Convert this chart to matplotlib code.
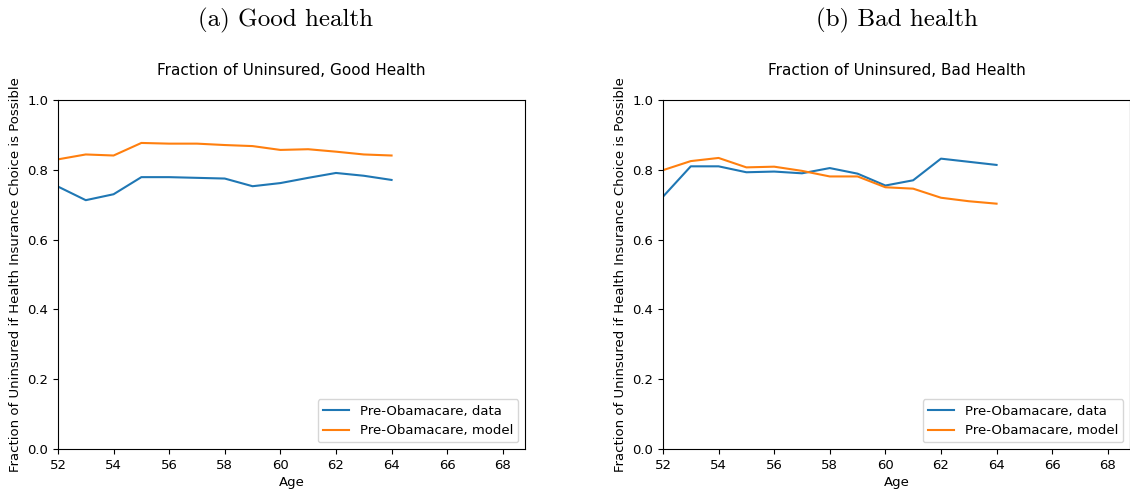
import matplotlib
matplotlib.use("Agg")
import matplotlib.pyplot as plt

# Ages covered by the simulation / survey data
ages = [52, 53, 54, 55, 56, 57, 58, 59, 60, 61, 62, 63, 64]

# Good health: fraction uninsured
good_data = [0.752, 0.713, 0.730, 0.779, 0.779, 0.777, 0.775, 0.753,
             0.762, 0.777, 0.791, 0.783, 0.771]
good_model = [0.830, 0.844, 0.841, 0.877, 0.875, 0.875, 0.871, 0.868,
              0.857, 0.859, 0.852, 0.844, 0.841]

# Bad health: fraction uninsured
bad_data = [0.723, 0.810, 0.810, 0.793, 0.795, 0.790, 0.805, 0.789,
            0.755, 0.770, 0.832, 0.823, 0.814]
bad_model = [0.799, 0.825, 0.834, 0.807, 0.809, 0.797, 0.781, 0.781,
             0.750, 0.746, 0.720, 0.710, 0.703]

x_ticks = [52, 54, 56, 58, 60, 62, 64, 66, 68]
y_ticks = [0.0, 0.2, 0.4, 0.6, 0.8, 1.0]

panels = [
    ("(a) Good health", "Fraction of Uninsured, Good Health", good_data, good_model),
    ("(b) Bad health", "Fraction of Uninsured, Bad Health", bad_data, bad_model),
]

fs = 9.5

fig = plt.figure(figsize=(11.3, 4.91), dpi=100)
axes_pos = [[0.0513, 0.0855, 0.4133, 0.7108],
            [0.5867, 0.0855, 0.4133, 0.7108]]
# horizontal centres of the sub-figure captions (figure fraction)
caption_x = [286 / 1130, 897 / 1130]

for pos, cx, (caption, title, data, model) in zip(axes_pos, caption_x, panels):
    ax = fig.add_axes(pos)
    ax.plot(ages, data, color="#1f77b4", linewidth=1.5, label="Pre-Obamacare, data")
    ax.plot(ages, model, color="#ff7f0e", linewidth=1.5, label="Pre-Obamacare, model")
    ax.set_xlim(52, 68.8)
    ax.set_ylim(0, 1)
    ax.set_xticks(x_ticks)
    ax.set_yticks(y_ticks)
    ax.tick_params(labelsize=fs)
    ax.set_xlabel("Age", fontsize=fs, labelpad=3)
    ax.set_ylabel("Fraction of Uninsured if Health Insurance Choice is Possible", fontsize=fs)
    ax.set_title(title, fontsize=11, pad=18)
    ax.legend(loc="lower right", fontsize=fs)
    # sub-figure caption above each panel
    fig.text(cx, 1 - 20 / 491, caption, family="cmr10",
             fontsize=18, ha="center", va="center")

fig.savefig("out.png", dpi=100)
